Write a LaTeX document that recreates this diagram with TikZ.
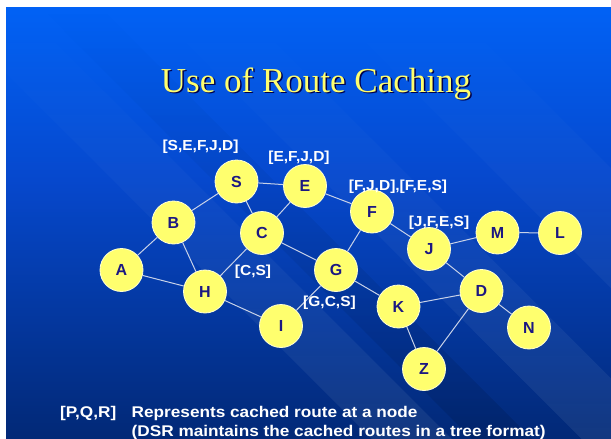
\documentclass[tikz,border=0pt]{standalone}
\usepackage{fontspec}
\usetikzlibrary{fadings}
\setmainfont{Liberation Serif}
\newfontfamily\labfont[FakeStretch=1.07]{Liberation Sans}
\newfontfamily\botfont[FakeStretch=1.11]{Liberation Sans}
\newfontfamily\nodefont{Liberation Sans}
\definecolor{bgtop}{RGB}{0,104,255}
\definecolor{bgmid}{RGB}{6,72,205}
\definecolor{bgbot}{RGB}{0,26,78}
\definecolor{nodefill}{RGB}{255,255,110}
\definecolor{noderim}{RGB}{255,255,210}
\definecolor{nodetext}{RGB}{28,24,130}
\definecolor{edgecol}{RGB}{200,210,232}
\definecolor{titlecol}{RGB}{255,255,110}
\pgfdeclareverticalshading{bgshade}{100bp}{color(0bp)=(bgbot); color(20bp)=(bgbot!80!bgmid); color(55bp)=(bgmid); color(80bp)=(bgtop); color(100bp)=(bgtop)}
\tikzset{
  netnode/.style={circle, minimum size=43pt, inner sep=0pt, fill=nodefill, draw=noderim, line width=0.8pt,
    font=\nodefont\bfseries\fontsize{16}{16}\selectfont, text=nodetext},
  edge/.style={draw=edgecol, line width=1pt},
  cachelab/.style={anchor=base, inner sep=0pt, text=white, font=\labfont\bfseries\fontsize{14.5}{14.5}\selectfont},
  bottext/.style={anchor=base west, inner sep=0pt, text=white, font=\botfont\bfseries\fontsize{15.5}{15.5}\selectfont},
  band/.style={fill=white, fill opacity=0.07, path fading=north}
}
\begin{document}
\begin{tikzpicture}[x=1pt,y=-1pt]
\useasboundingbox (0,0) rectangle (611,439);
\fill[white] (0,0) rectangle (611,439);
\shade[shading=bgshade] (6,7) rectangle (611,439);
% decorative diagonal bands (45 degrees, fading out towards the top)
\begin{scope}
\clip (6,7) rectangle (611,439);
\fill[band] (-60,7) -- (20,7) -- (452,439) -- (372,439) -- cycle;
\fill[band] (150,7) -- (240,7) -- (672,439) -- (582,439) -- cycle;
\fill[band] (330,7) -- (450,7) -- (882,439) -- (762,439) -- cycle;
\fill[black, fill opacity=0.1, path fading=north] (40,7) -- (100,7) -- (532,439) -- (472,439) -- cycle;
\end{scope}
% title
\node[anchor=base, inner sep=0pt, text=black!70!blue, font=\fontsize{35}{35}\selectfont] at (317.5,93.5) {Use of Route Caching};
\node[anchor=base, inner sep=0pt, text=titlecol, font=\fontsize{35}{35}\selectfont] (title) at (316,92) {Use of Route Caching};
% nodes
\node[netnode] (S) at (236.5,181.5) {S};
\node[netnode] (E) at (305,186) {E};
\node[netnode] (B) at (173.5,222.5) {B};
\node[netnode] (C) at (262,233) {C};
\node[netnode] (A) at (121.5,270) {A};
\node[netnode] (H) at (205,291.5) {H};
\node[netnode] (G) at (336,270) {G};
\node[netnode] (I) at (281,326) {I};
\node[netnode] (F) at (372,211.5) {F};
\node[netnode] (J) at (429,249) {J};
\node[netnode] (M) at (497.5,232.5) {M};
\node[netnode] (L) at (560,233) {L};
\node[netnode] (D) at (481.5,291) {D};
\node[netnode] (K) at (398.5,306.5) {K};
\node[netnode] (N) at (529,327.5) {N};
\node[netnode] (Z) at (424,369) {Z};
% edges
\foreach \u/\v in {S/E, S/B, S/C, E/C, E/F, B/A, B/H, A/H, H/C, H/I, C/G, G/F, G/I, G/K, F/J, J/M, M/L, J/D, K/D, D/N, D/Z, K/Z}
  \draw[edge] (\u) -- (\v);
% cached route labels
\node[cachelab] (l1) at (200.5,150.5) {[S,E,F,J,D]};
\node[cachelab] (l2) at (299,161.5) {[E,F,J,D]};
\node[cachelab] (l3) at (398,190.5) {[F,J,D],[F,E,S]};
\node[cachelab] (l4) at (439,226.5) {[J,F,E,S]};
\node[cachelab] (l5) at (253,275.5) {[C,S]};
\node[cachelab] (l6) at (329.5,306.5) {[G,C,S]};
% legend
\node[bottext] (p) at (60,417.7) {[P,Q,R]};
\node[bottext] (r1) at (131.5,417.7) {Represents cached route at a node};
\node[bottext] (r2) at (131.5,436.5) {(DSR maintains the cached routes in a tree format)};
\end{tikzpicture}
\end{document}
